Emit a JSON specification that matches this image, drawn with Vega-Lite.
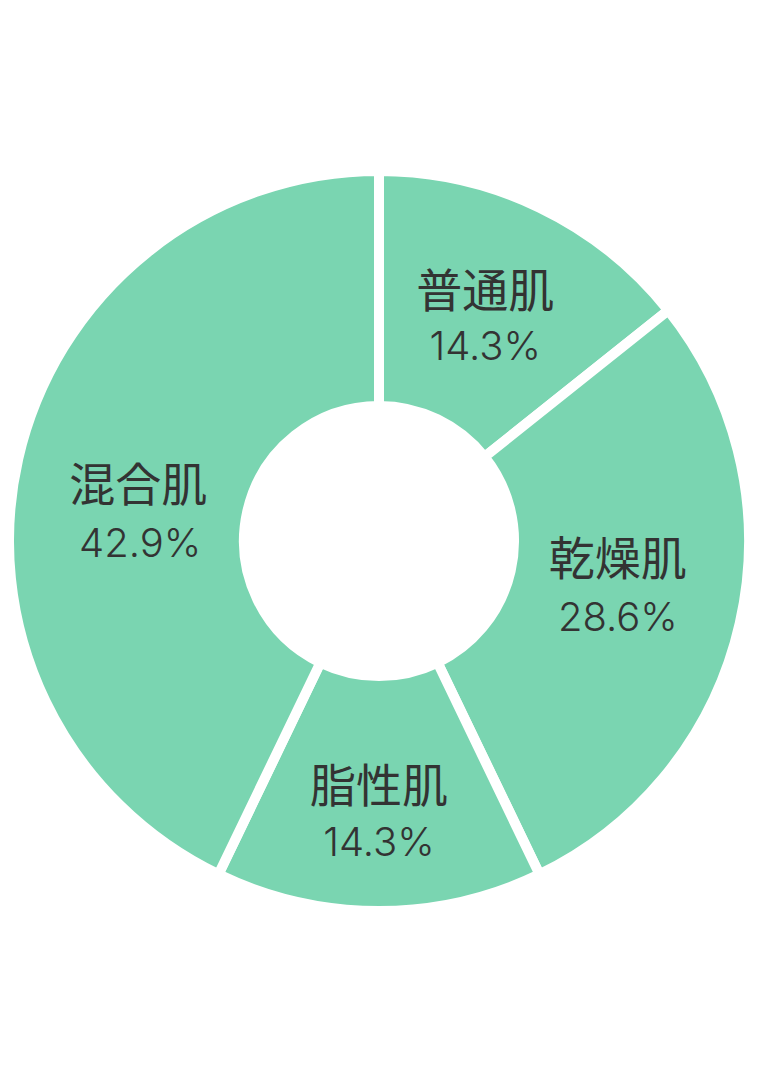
{
  "$schema": "https://vega.github.io/schema/vega-lite/v6.json",
  "width": 758,
  "height": 1086,
  "autosize": {"type": "fit", "contains": "padding"},
  "padding": {"top": 0, "bottom": 4, "left": 0, "right": 0},
  "background": "#ffffff",
  "view": {"stroke": null},
  "data": {
    "values": [
      {"name": "普通肌", "share": 0.143, "rank": 1},
      {"name": "乾燥肌", "share": 0.286, "rank": 2},
      {"name": "脂性肌", "share": 0.143, "rank": 3},
      {"name": "混合肌", "share": 0.429, "rank": 4}
    ]
  },
  "encoding": {
    "theta": {"field": "share", "type": "quantitative", "stack": true},
    "order": {"field": "rank", "type": "quantitative"}
  },
  "layer": [
    {
      "mark": {"type": "arc", "outerRadius": 370, "innerRadius": 135, "fill": "#7AD5B1", "stroke": "#ffffff", "strokeWidth": 10}
    },
    {
      "mark": {"type": "text", "radius": 245, "dy": -27, "font": "Noto Sans CJK JP", "fontSize": 46, "fill": "#333333"},
      "encoding": {"text": {"condition": {"test": "datum.name !== '普通肌'", "value": ""}, "field": "name", "type": "nominal"}}
    },
    {
      "mark": {"type": "text", "radius": 245, "dy": 28, "font": "Inter", "fontSize": 40, "fontWeight": 300, "fill": "#333333"},
      "encoding": {"text": {"condition": {"test": "datum.name !== '普通肌'", "value": ""}, "field": "share", "type": "quantitative", "format": ".1%"}}
    },
    {
      "mark": {"type": "text", "radius": 245, "dy": -35, "font": "Noto Sans CJK JP", "fontSize": 46, "fill": "#333333"},
      "encoding": {"text": {"condition": {"test": "datum.name !== '乾燥肌'", "value": ""}, "field": "name", "type": "nominal"}}
    },
    {
      "mark": {"type": "text", "radius": 245, "dy": 23, "font": "Inter", "fontSize": 40, "fontWeight": 300, "fill": "#333333"},
      "encoding": {"text": {"condition": {"test": "datum.name !== '乾燥肌'", "value": ""}, "field": "share", "type": "quantitative", "format": ".1%"}}
    },
    {
      "mark": {"type": "text", "radius": 273, "dy": -26, "font": "Noto Sans CJK JP", "fontSize": 46, "fill": "#333333"},
      "encoding": {"text": {"condition": {"test": "datum.name !== '脂性肌'", "value": ""}, "field": "name", "type": "nominal"}}
    },
    {
      "mark": {"type": "text", "radius": 273, "dy": 30, "font": "Inter", "fontSize": 40, "fontWeight": 300, "fill": "#333333"},
      "encoding": {"text": {"condition": {"test": "datum.name !== '脂性肌'", "value": ""}, "field": "share", "type": "quantitative", "format": ".1%"}}
    },
    {
      "mark": {"type": "text", "radius": 245, "dy": 1, "dx": -2, "font": "Noto Sans CJK JP", "fontSize": 46, "fill": "#333333"},
      "encoding": {"text": {"condition": {"test": "datum.name !== '混合肌'", "value": ""}, "field": "name", "type": "nominal"}}
    },
    {
      "mark": {"type": "text", "radius": 245, "dy": 59, "font": "Inter", "fontSize": 40, "fontWeight": 300, "fill": "#333333"},
      "encoding": {"text": {"condition": {"test": "datum.name !== '混合肌'", "value": ""}, "field": "share", "type": "quantitative", "format": ".1%"}}
    }
  ]
}
